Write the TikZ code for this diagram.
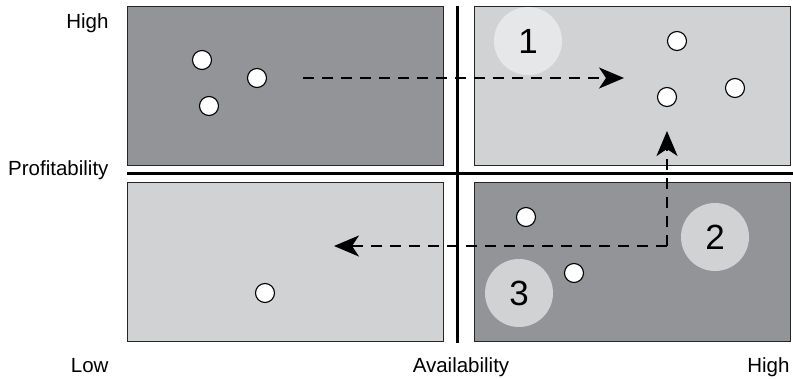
\documentclass[tikz,border=0pt]{standalone}
\usepackage{fontspec}
\setmainfont{Liberation Sans}
\usetikzlibrary{arrows.meta}
\definecolor{quadoscuro}{RGB}{147,148,152}
\definecolor{quadclaro}{RGB}{209,210,212}
\definecolor{pasoclaro}{RGB}{230,231,232}

\begin{document}
\begin{tikzpicture}[x=1pt, y=-1pt, >=Stealth, line width=1pt,
    quad/.style={draw=black!85, line width=0.9pt, minimum width=316pt, minimum height=159pt, inner sep=0pt},
    punto/.style={circle, draw, fill=white, line width=1.1pt, minimum size=19pt, inner sep=0pt},
    paso/.style={circle, minimum size=68pt, inner sep=0pt, font=\fontsize{35}{40}\selectfont},
    etiq/.style={inner sep=0pt, font=\fontsize{20.5}{24}\selectfont},
    flecha/.style={line width=2.4pt, dash pattern=on 11pt off 8pt,
      arrows={-Stealth[length=25pt, width=21pt, inset=7pt]}}]
    \useasboundingbox (0,0) rectangle (793,378);
    % cuadrantes
    \node[quad, fill=quadoscuro] (ai) at (285,85.5) {};
    \node[quad, fill=quadclaro] (ad) at (632,85.5) {};
    \node[quad, fill=quadclaro] (bi) at (285,261.5) {};
    \node[quad, fill=quadoscuro] (bd) at (632,261.5) {};
    % ejes
    \draw[line width=3pt] (127,173) -- (793,173);
    \draw[line width=3pt] (457,6) -- (457,343);
    \node[etiq, anchor=base east] (alto) at (109,28) {High};
    \node[etiq, anchor=base east] (prof) at (109,175) {Profitability};
    \node[etiq, anchor=base east] (bajo) at (109,372) {Low};
    \node[etiq, anchor=base] (disp) at (461,372) {Availability};
    \node[etiq, anchor=base east] (alto2) at (790,372) {High};
    % pasos numerados
    \node[paso, fill=pasoclaro] (p1) at (528,41) {1};
    \node[paso, fill=quadclaro] (p2) at (715,237) {2};
    \node[paso, fill=quadclaro] (p3) at (519,293) {3};
    % productos
    \node[punto] (a1) at (202,60) {};
    \node[punto] (a2) at (257,78) {};
    \node[punto] (a3) at (209,106) {};
    \node[punto] (b1) at (677,41) {};
    \node[punto] (b2) at (667,97) {};
    \node[punto] (b3) at (735,88) {};
    \node[punto] (c1) at (265,293) {};
    \node[punto] (d1) at (526,217) {};
    \node[punto] (d2) at (574,273) {};
    % movimientos
    \coordinate (ini) at (303,78);
    \coordinate (fin) at (624,78);
    \coordinate (esq) at (667,246);
    \coordinate (arr) at (667,131);
    \coordinate (izq) at (334,246);
    \draw[flecha] (ini) -- (fin);
    \draw[flecha] (esq) -- (arr);
    \draw[flecha] (esq) -- (izq);
\end{tikzpicture}
\end{document}
